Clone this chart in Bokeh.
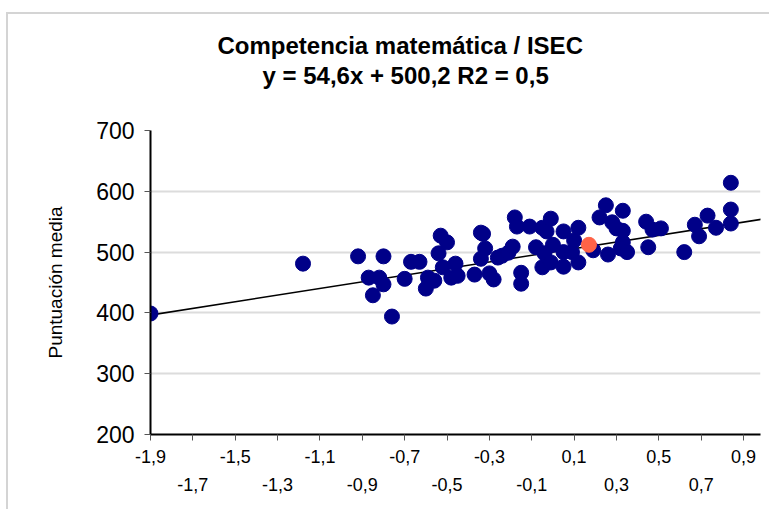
from bokeh.plotting import figure
from bokeh.models import (LinearAxis, FixedTicker, Range1d, Slope, Title,
                          ColumnDataSource)
from bokeh.embed import file_html
from bokeh.resources import INLINE

# ISEC (x) and mean score (y) per region/school group
isec = [-1.90, -1.18, -0.92, -0.80, -0.87, -0.82, -0.80, -0.85, -0.76, -0.70,
        -0.67, -0.63, -0.59, -0.60, -0.56, -0.54, -0.53, -0.50, -0.52, -0.48,
        -0.46, -0.45, -0.37, -0.34, -0.33, -0.34, -0.32, -0.30, -0.28, -0.26,
        -0.24, -0.21, -0.19, -0.15, -0.15, -0.18, -0.17, -0.11, -0.08, -0.05,
        -0.05, -0.03, -0.01, 0.00, -0.04, -0.01, 0.05, 0.09, 0.05, 0.05,
        0.10, 0.12, 0.12, 0.19, 0.25, 0.22, 0.28, 0.30, 0.33, 0.33,
        0.33, 0.32, 0.35, 0.26, 0.44, 0.47, 0.51, 0.45, 0.62, 0.67,
        0.73, 0.69, 0.77, 0.84, 0.84, 0.84]
score = [399, 481, 493, 493, 458, 458, 447, 429, 394, 456,
         484, 484, 458, 440, 453, 498, 527, 516, 475, 458,
         481, 461, 463, 532, 530, 489, 506, 465, 455, 491,
         494, 499, 509, 466, 448, 557, 542, 542, 508, 475,
         540, 534, 555, 512, 498, 483, 500, 500, 534, 476,
         519, 540, 483, 503, 577, 557, 549, 539, 568, 535,
         516, 506, 500, 496, 550, 537, 539, 508, 500, 545,
         560, 526, 540, 614, 570, 547]

# highlighted point (overall average)
ref_isec = [0.17]
ref_score = [512]

# regression line
slope = 54.6
intercept = 500.2

title_line1 = "Competencia matemática / ISEC"
title_line2 = "y = 54,6x + 500,2  R2 = 0,5"
y_title = "Puntuación media"

x_ticks_row1 = [-1.9, -1.5, -1.1, -0.7, -0.3, 0.1, 0.5, 0.9]
x_labels_row1 = ["-1,9", "-1,5", "-1,1", "-0,7", "-0,3", "0,1", "0,5", "0,9"]
x_ticks_row2 = [-1.7, -1.3, -0.9, -0.5, -0.1, 0.3, 0.7]
x_labels_row2 = ["-1,7", "-1,3", "-0,9", "-0,5", "-0,1", "0,3", "0,7"]
y_ticks = [200, 300, 400, 500, 600, 700]

FONT = "Liberation Sans"

p = figure(width=763, height=497,
           x_range=Range1d(-1.9, 0.98), y_range=Range1d(200, 700),
           output_backend="svg", toolbar_location=None,
           x_axis_location=None,
           min_border_left=142, min_border_right=11,
           min_border_top=116, min_border_bottom=77)

p.outline_line_color = None
p.background_fill_color = "white"
p.border_fill_color = "white"
p.styles = {"margin-left": "6px", "margin-top": "12px",
            "border-top": "2px solid #d4d4d4", "border-left": "2px solid #d4d4d4"}


def make_title(text, offset, standoff, size="24px", style="bold"):
    t = Title(text=text, align="left", offset=offset, text_font=FONT,
              text_font_size=size, text_font_style=style, text_color="black")
    try:
        t.standoff = standoff
    except Exception:
        pass
    return t


# stacked from the frame upward: spacer, second line, first line
p.add_layout(make_title(" ", 0, 0, size="35px", style="normal"), "above")
p.add_layout(make_title(title_line2, 112, 1), "above")
p.add_layout(make_title(title_line1, 67, 1), "above")

# y axis
ya = p.yaxis[0]
ya.ticker = FixedTicker(ticks=y_ticks)
ya.axis_line_width = 2
ya.axis_line_color = "black"
ya.major_tick_out = 6
ya.major_tick_in = 0
ya.minor_tick_out = 0
ya.minor_tick_in = 0
ya.major_tick_line_color = "#555555"
ya.major_label_text_font = FONT
ya.major_label_text_font_size = "23px"
ya.major_label_text_color = "black"
ya.major_label_standoff = 10
ya.axis_label = y_title
ya.axis_label_text_font = FONT
ya.axis_label_text_font_size = "19px"
ya.axis_label_text_font_style = "normal"
ya.axis_label_text_color = "black"
ya.axis_label_standoff = 27

for g in p.grid:
    if g.dimension == 0:
        g.visible = False
p.ygrid.grid_line_color = "#dcdcdc"
p.ygrid.grid_line_width = 2

# x axis, two staggered label rows
ax1 = LinearAxis(ticker=FixedTicker(ticks=x_ticks_row1, minor_ticks=x_ticks_row2),
                 major_label_overrides=dict(zip(x_ticks_row1, x_labels_row1)),
                 axis_line_width=2, axis_line_color="black",
                 major_tick_out=6, major_tick_in=0,
                 minor_tick_out=6, minor_tick_in=0,
                 major_tick_line_color="#555555", minor_tick_line_color="#555555",
                 major_label_standoff=9,
                 major_label_text_font=FONT, major_label_text_font_size="18px",
                 major_label_text_color="black")
p.add_layout(ax1, "below")
ax2 = LinearAxis(ticker=FixedTicker(ticks=x_ticks_row2),
                 major_label_overrides=dict(zip(x_ticks_row2, x_labels_row2)),
                 axis_line_color=None, major_tick_line_color=None,
                 minor_tick_line_color=None,
                 major_label_standoff=6,
                 major_label_text_font=FONT, major_label_text_font_size="18px",
                 major_label_text_color="black")
p.add_layout(ax2, "below")

reg = Slope(gradient=slope, y_intercept=intercept, line_color="black",
            line_width=1.5, level="underlay")
p.add_layout(reg)

src = ColumnDataSource(data=dict(x=isec, y=score))
p.scatter("x", "y", source=src, size=15, fill_color="#000088", line_color="#000088")
p.scatter(ref_isec, ref_score, size=15, fill_color="#FF6347", line_color="#FF6347")

open("out.html", "w").write(file_html(p, INLINE))
